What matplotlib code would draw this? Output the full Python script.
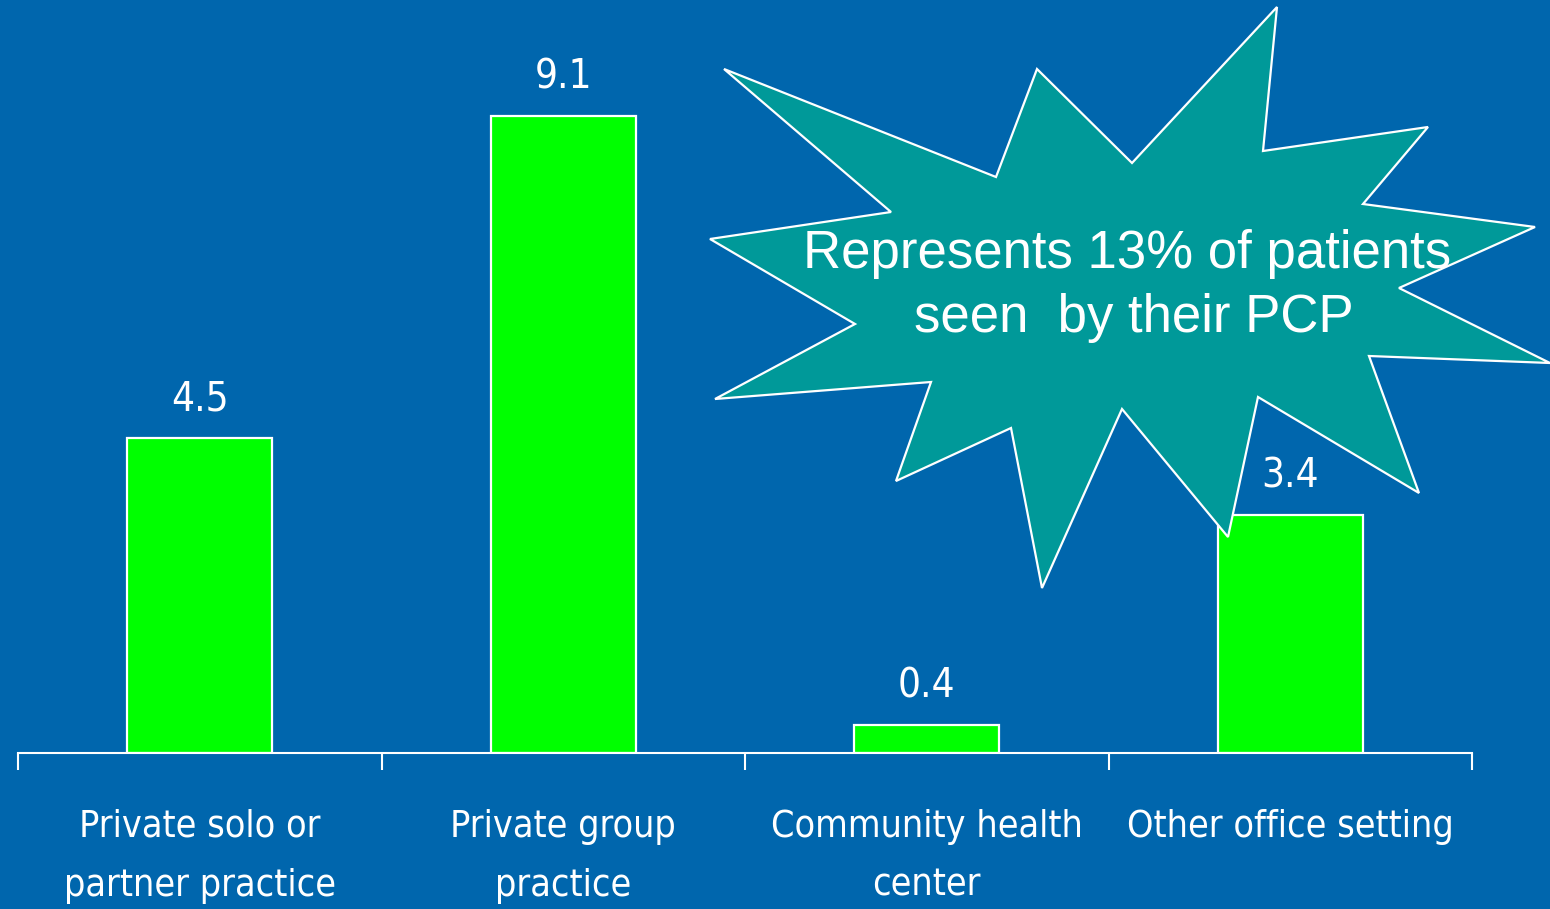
import matplotlib as mpl
mpl.use("Agg")
import matplotlib.pyplot as plt
from matplotlib.patches import Polygon
import numpy as np

categories = ["Private solo or\npartner practice", "Private group\npractice",
              "Community health\ncenter", "Other office setting"]
values = [4.5, 9.1, 0.4, 3.4]
callout = ["Represents 13% of patients", "seen  by their PCP"]

bg = "#0066ad"
green = "#00ff00"
teal = "#009999"

W, H = 1550, 909
fig = plt.figure(figsize=(W / 100, H / 100), dpi=100, facecolor=bg)
ax = fig.add_axes([18 / W, (H - 753) / H, (1472 - 18) / W, 753 / H])
ax.set_facecolor(bg)

narrow = dict(family=["DejaVu Sans"], stretch="condensed")
regular = ["Liberation Sans", "DejaVu Sans"]

x = np.arange(len(values))
bars = ax.bar(x, values, width=0.4, color=green, edgecolor="white", linewidth=1.6, zorder=2)
for xi, v in zip(x, values):
    ax.annotate(f"{v:.1f}", (xi, v), xytext=(0, 20), textcoords="offset points",
                ha="center", va="baseline", color="white", fontsize=29, **narrow)

ax.set_xlim(-0.5, 3.5)
ax.set_ylim(0, 753 / 70)
for s in ["left", "right", "top"]:
    ax.spines[s].set_visible(False)
ax.spines["bottom"].set_color("white")
ax.spines["bottom"].set_linewidth(1.5)
ax.set_yticks([])

ax.set_xticks(np.arange(-0.5, 4, 1.0))
ax.set_xticklabels([])
ax.tick_params(axis="x", which="major", direction="out", length=12, width=1.5, color="white")
ax.set_xticks(x, minor=True)
ax.set_xticklabels(categories, minor=True, color="white", fontsize=27,
                   va="top", linespacing=1.82, **narrow)
ax.tick_params(axis="x", which="minor", length=0, pad=40)

# starburst callout
star_px = [(724, 69), (996, 177), (1037, 69), (1132, 163), (1277, 7), (1263, 151),
           (1428, 127), (1363, 204), (1535, 227), (1399, 288), (1550, 363), (1369, 356),
           (1419, 493), (1258, 397), (1228, 537), (1122, 409), (1042, 588), (1011, 428),
           (896, 481), (931, 382), (715, 399), (855, 324), (710, 239), (891, 212)]
pts = [(px / W, 1 - py / H) for px, py in star_px]
fig.patches.append(Polygon(pts, closed=True, facecolor=teal, edgecolor="white",
                           linewidth=1.6, transform=fig.transFigure, zorder=5))
fig.text(1127 / W, 1 - 268 / H, callout[0], ha="center", va="baseline", color="white",
         fontsize=38, family=regular, zorder=6)
fig.text(1134 / W, 1 - 332 / H, callout[1], ha="center", va="baseline", color="white",
         fontsize=38, family=regular, zorder=6)

fig.savefig("out.png", dpi=100, facecolor=bg)
